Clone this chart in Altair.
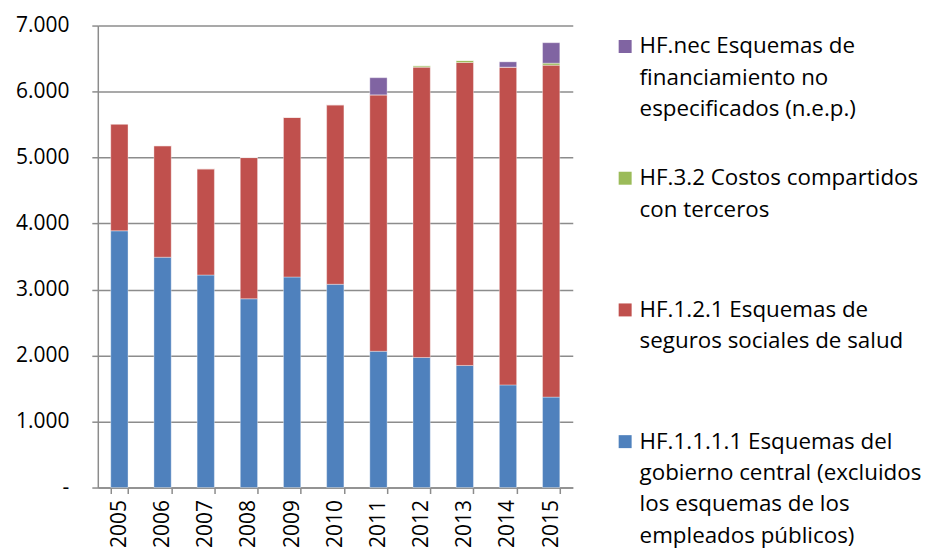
import altair as alt
import pandas as pd

years = ["2005", "2006", "2007", "2008", "2009", "2010", "2011", "2012", "2013", "2014", "2015"]
central = [3890, 3490, 3220, 2860, 3190, 3080, 2065, 1970, 1850, 1555, 1370]
seguros = [1620, 1690, 1610, 2140, 2420, 2720, 3885, 4400, 4590, 4815, 5030]
compartidos = [0, 0, 0, 0, 0, 0, 0, 20, 30, 0, 30]
nep = [0, 0, 0, 0, 0, 0, 260, 0, 0, 80, 310]

series_keys = ["HF.1.1.1.1", "HF.1.2.1", "HF.3.2", "HF.nec"]
series_labels = [
    "HF.1.1.1.1 Esquemas del\ngobierno central (excluidos\nlos esquemas de los\nempleados públicos)",
    "HF.1.2.1 Esquemas de\nseguros sociales de salud",
    "HF.3.2 Costos compartidos\ncon terceros",
    "HF.nec Esquemas de\nfinanciamiento no\nespecificados (n.e.p.)",
]
colors = ["#4F81BD", "#C0504D", "#9BBB59", "#8064A2"]
y_ticks = [0, 1000, 2000, 3000, 4000, 5000, 6000, 7000]

series_values = [central, seguros, compartidos, nep]
rows = []
for i, (key, vals) in enumerate(zip(series_keys, series_values)):
    for y, v in zip(years, vals):
        rows.append({"year": y, "serie": key, "value": v, "ord": i})
df = pd.DataFrame(rows)

FONT = "Open Sans"
GRID = "#8c8c8c"
color_scale = alt.Scale(domain=series_keys, range=colors)

bars = alt.Chart(df).mark_bar(stroke="white", strokeWidth=0.6, strokeOpacity=0.6).encode(
    x=alt.X("year:N", sort=years,
            scale=alt.Scale(paddingInner=0.6, paddingOuter=0.3),
            axis=alt.Axis(title=None, labelAngle=-90, tickBand="extent",
                          labelFont=FONT, labelFontSize=21, labelColor="#000",
                          labelPadding=6, tickSize=6, tickColor=GRID, tickWidth=1.5,
                          domainColor=GRID, domainWidth=1.5, grid=False)),
    y=alt.Y("value:Q", stack="zero",
            scale=alt.Scale(domain=[0, 7000], nice=False),
            axis=alt.Axis(title=None, values=y_ticks,
                          labelExpr="datum.value == 0 ? '-' : replace(format(datum.value, ','), ',', '.')",
                          labelFont=FONT, labelFontSize=21, labelColor="#000",
                          labelPadding=23,
                          tickSize=6, tickColor=GRID, tickWidth=1.5,
                          domainColor=GRID, domainWidth=1.5,
                          grid=True, gridColor=GRID, gridWidth=1.5)),
    color=alt.Color("serie:N", scale=color_scale, legend=None),
    order=alt.Order("ord:Q"),
).properties(width=476, height=463)

leg_order = list(reversed(series_keys))
leg_df = pd.DataFrame({"serie": series_keys, "label": series_labels})

leg_base = alt.Chart(leg_df).encode(
    y=alt.Y("serie:N", sort=leg_order,
            scale=alt.Scale(type="point", padding=0, align=0), axis=None)
)
squares = leg_base.mark_square(size=169, opacity=1, yOffset=21).encode(
    x=alt.value(6.5),
    color=alt.Color("serie:N", scale=color_scale, legend=None),
)
texts = leg_base.mark_text(align="left", baseline="top", dy=10, lineBreak="\n",
                           lineHeight=31.5, font=FONT, fontSize=22.4, color="#000").encode(
    x=alt.value(21),
    text="label:N",
)
legend = alt.layer(squares, texts).properties(width=280, height=396)

chart = alt.hconcat(bars, legend, spacing=46).properties(
    padding={"left": 7, "top": 6, "right": 0, "bottom": 0}
).configure_view(stroke=None)

chart.save("out.html", embed_options={"renderer": "svg", "actions": False})
